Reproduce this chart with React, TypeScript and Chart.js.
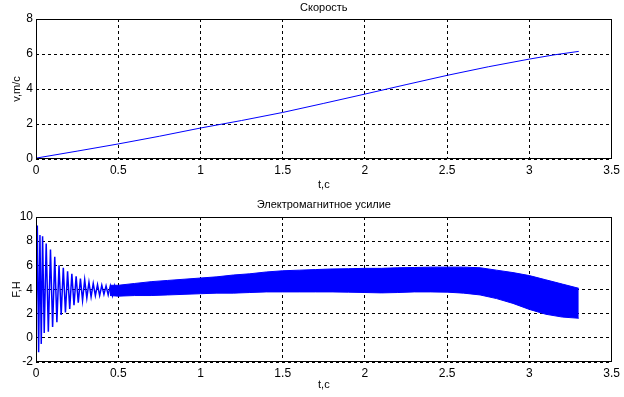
import React, { useEffect, useRef } from 'react';
import { Chart, registerables } from 'chart.js';

Chart.register(...registerables);

// ---- Data ----
const vTime = [0, 0.25, 0.5, 0.75, 1, 1.25, 1.5, 1.75, 2, 2.25, 2.5, 2.75, 3, 3.15, 3.3];
const vValues = [0.05, 0.45, 0.86, 1.3, 1.77, 2.2, 2.66, 3.18, 3.71, 4.25, 4.78, 5.27, 5.71, 5.95, 6.15];

const fEarlyTime = [
  0.0, 0.008, 0.016, 0.024, 0.032, 0.04, 0.05, 0.062, 0.075, 0.088, 0.101, 0.114, 0.127,
  0.14, 0.153, 0.166, 0.179, 0.192, 0.205, 0.218, 0.231, 0.244, 0.257, 0.27, 0.283, 0.296,
  0.309, 0.322, 0.335, 0.348, 0.361, 0.374, 0.387, 0.4, 0.413, 0.426, 0.439, 0.452, 0.465,
  0.478, 0.491,
];
const fEarlyValues = [
  1.0, 9.3, -1.2, 8.5, -0.5, 8.4, 0.4, 7.8, 0.5, 7.3, 0.9, 6.7, 1.3,
  6.0, 1.9, 5.8, 2.1, 5.5, 2.4, 5.3, 2.7, 5.1, 2.9, 4.9, 3.1, 4.8,
  3.3, 4.6, 3.4, 4.5, 3.5, 4.4, 3.5, 4.35, 3.6, 4.3, 3.55, 4.3, 3.5,
  4.3, 3.5,
];

const fBandTime = [0.45, 0.5, 0.6, 0.7, 0.8, 0.9, 1.0, 1.1, 1.2, 1.3, 1.4, 1.5, 1.6, 1.7, 1.8, 1.9, 2.0, 2.1, 2.2, 2.3, 2.4, 2.5, 2.6, 2.7, 2.8, 2.9, 3.0, 3.1, 3.2, 3.3];
const fBandUpper = [4.35, 4.35, 4.5, 4.65, 4.75, 4.85, 4.95, 5.05, 5.2, 5.3, 5.45, 5.55, 5.6, 5.65, 5.7, 5.72, 5.75, 5.75, 5.8, 5.82, 5.85, 5.85, 5.85, 5.8, 5.6, 5.4, 5.15, 4.8, 4.45, 4.1];
const fBandLower = [3.5, 3.45, 3.5, 3.5, 3.55, 3.6, 3.65, 3.7, 3.7, 3.75, 3.8, 3.8, 3.8, 3.8, 3.8, 3.78, 3.75, 3.72, 3.75, 3.8, 3.8, 3.78, 3.7, 3.55, 3.25, 2.85, 2.35, 1.95, 1.72, 1.62];

const xTicks = [0, 0.5, 1, 1.5, 2, 2.5, 3, 3.5];
const xTickLabels = ['0', '0.5', '1', '1.5', '2', '2.5', '3', '3.5'];
const vTicks = [0, 2, 4, 6, 8];
const vTickLabels = ['0', '2', '4', '6', '8'];
const fTicks = [-2, 0, 2, 4, 6, 8, 10];
const fTickLabels = ['-2', '0', '2', '4', '6', '8', '10'];

const FONT = '"Liberation Sans", Arial, sans-serif';
const BLUE = '#0000ff';

const framePlugin = {
  id: 'frameAndTitle',
  afterDraw(chart: any) {
    const { ctx, chartArea } = chart;
    const l = Math.round(chartArea.left) + 0.5;
    const t = Math.round(chartArea.top) + 0.5;
    const r = Math.round(chartArea.right) - 0.5;
    const b = Math.round(chartArea.bottom) - 0.5;
    ctx.save();
    ctx.strokeStyle = '#000';
    ctx.lineWidth = 1;
    ctx.setLineDash([]);
    ctx.strokeRect(l, t, r - l, b - t);
    const title = chart.options.plugins.frameAndTitle?.text;
    if (title) {
      ctx.fillStyle = '#000';
      ctx.font = `11px ${FONT}`;
      ctx.textAlign = 'center';
      ctx.textBaseline = 'middle';
      ctx.fillText(title, (chartArea.left + chartArea.right) / 2, chart.options.plugins.frameAndTitle.y);
    }
    ctx.restore();
  },
};

function makeOptions(p: {
  title: string; titleY: number; yLabel: string; yMin: number; yMax: number;
  yTicks: number[]; yTickLabels: string[]; padTop: number; padRight: number; xHeight: number;
}) {
  return {
    responsive: false,
    animation: false as const,
    events: [],
    layout: { padding: { top: p.padTop, right: p.padRight, left: 0, bottom: 0 } },
    plugins: {
      legend: { display: false },
      tooltip: { enabled: false },
      title: { display: false },
      frameAndTitle: { text: p.title, y: p.titleY },
    },
    scales: {
      x: {
        type: 'linear' as const,
        min: 0,
        max: 3.5,
        afterBuildTicks: (scale: any) => {
          scale.ticks = xTicks.map((v) => ({ value: v }));
        },
        afterFit: (scale: any) => {
          scale.height = p.xHeight;
        },
        ticks: {
          color: '#000',
          font: { family: FONT, size: 12 },
          padding: 4,
          maxRotation: 0,
          callback: (_v: any, i: number) => xTickLabels[i],
        },
        grid: { color: '#000', lineWidth: 1, drawTicks: false },
        border: { display: false, dash: [3, 3] },
        title: {
          display: true,
          text: 't,c',
          color: '#000',
          font: { family: FONT, size: 11 },
          padding: { top: 0, bottom: 5 },
        },
      },
      y: {
        type: 'linear' as const,
        min: p.yMin,
        max: p.yMax,
        afterBuildTicks: (scale: any) => {
          scale.ticks = p.yTicks.map((v) => ({ value: v }));
        },
        afterFit: (scale: any) => {
          scale.width = 36;
        },
        ticks: {
          color: '#000',
          font: { family: FONT, size: 12 },
          padding: 3,
          callback: (_v: any, i: number) => p.yTickLabels[i],
        },
        grid: { color: '#000', lineWidth: 1, drawTicks: false },
        border: { display: false, dash: [3, 3] },
        title: {
          display: true,
          text: p.yLabel,
          color: '#000',
          font: { family: FONT, size: 11 },
          padding: { top: 10, bottom: 0 },
        },
      },
    },
  };
}

export default function App() {
  const topRef = useRef<HTMLCanvasElement>(null);
  const botRef = useRef<HTMLCanvasElement>(null);

  useEffect(() => {
    document.body.style.margin = '0';
    const c1 = new Chart(topRef.current!, {
      type: 'line',
      data: {
        datasets: [
          {
            data: vTime.map((t, i) => ({ x: t, y: vValues[i] })),
            borderColor: BLUE,
            borderWidth: 1,
            pointRadius: 0,
            tension: 0,
          },
        ],
      },
      options: makeOptions({
        title: 'Скорость', titleY: 8, yLabel: 'v,m/c', yMin: 0, yMax: 8,
        yTicks: vTicks, yTickLabels: vTickLabels, padTop: 19, padRight: 10, xHeight: 38,
      }) as any,
      plugins: [framePlugin],
    });

    const c2 = new Chart(botRef.current!, {
      type: 'line',
      data: {
        datasets: [
          {
            data: fEarlyTime.map((t, i) => ({ x: t, y: fEarlyValues[i] })),
            borderColor: BLUE,
            borderWidth: 1.5,
            pointRadius: 0,
            tension: 0,
          },
          {
            data: fBandTime.map((t, i) => ({ x: t, y: fBandUpper[i] })),
            borderColor: BLUE,
            borderWidth: 1,
            pointRadius: 0,
            tension: 0,
            fill: false,
          },
          {
            data: fBandTime.map((t, i) => ({ x: t, y: fBandLower[i] })),
            borderColor: BLUE,
            backgroundColor: BLUE,
            borderWidth: 1,
            pointRadius: 0,
            tension: 0,
            fill: '-1',
          },
        ],
      },
      options: makeOptions({
        title: 'Электромагнитное усилие', titleY: 8, yLabel: 'F,H', yMin: -2, yMax: 10,
        yTicks: fTicks, yTickLabels: fTickLabels, padTop: 20, padRight: 12, xHeight: 35,
      }) as any,
      plugins: [framePlugin],
    });

    return () => {
      c1.destroy();
      c2.destroy();
    };
  }, []);

  return (
    <div style={{ position: 'absolute', left: 0, top: 0, width: 624, height: 397, background: '#fff' }}>
      <canvas ref={topRef} width={624} height={197} style={{ position: 'absolute', left: 0, top: 0, width: 624, height: 197 }} />
      <canvas ref={botRef} width={624} height={200} style={{ position: 'absolute', left: 0, top: 197, width: 624, height: 200 }} />
    </div>
  );
}
